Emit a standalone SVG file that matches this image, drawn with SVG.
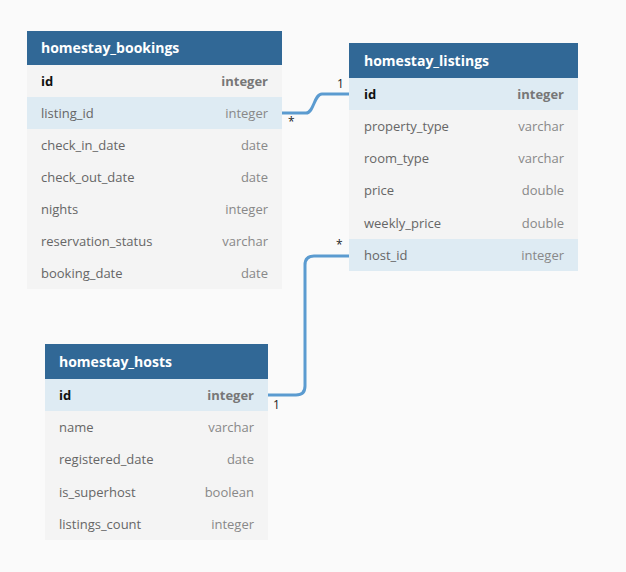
<svg xmlns="http://www.w3.org/2000/svg" width="626" height="572" viewBox="0 0 626 572">
<style>
text{font-family:"Open Sans","Liberation Sans",sans-serif;font-size:13px}
.hd{fill:#316896}.hl{fill:#ffffff;font-weight:bold;font-size:14px}
.row{fill:#f4f4f4}.sel{fill:#deebf3}
.n{fill:#666}.t{fill:#888;text-anchor:end}
.pk{fill:#111;font-weight:bold}.pt{fill:#777;font-weight:bold;text-anchor:end}
.c{fill:none;stroke:#5b9bd0;stroke-width:3}
.m{fill:#222;font-size:12px}
</style>
<rect width="626" height="572" fill="#fafafa"/>
<g id="homestay_bookings">
<rect x="27" y="31" width="255" height="34" class="hd"/>
<text x="41" y="53" class="hl">homestay_bookings</text>
<rect x="27" y="65" width="255" height="224" class="row"/>
<rect x="27" y="97" width="255" height="32" class="sel"/>
<text x="41" y="86" class="pk">id</text><text x="268" y="86" class="pt">integer</text>
<text x="41" y="118" class="n">listing_id</text><text x="268" y="118" class="t">integer</text>
<text x="41" y="150" class="n">check_in_date</text><text x="268" y="150" class="t">date</text>
<text x="41" y="182" class="n">check_out_date</text><text x="268" y="182" class="t">date</text>
<text x="41" y="214" class="n">nights</text><text x="268" y="214" class="t">integer</text>
<text x="41" y="246" class="n">reservation_status</text><text x="268" y="246" class="t">varchar</text>
<text x="41" y="278" class="n">booking_date</text><text x="268" y="278" class="t">date</text>
</g>
<g id="homestay_listings">
<rect x="349" y="43" width="229" height="35" class="hd"/>
<text x="364" y="66" class="hl">homestay_listings</text>
<rect x="349" y="78" width="229" height="193" class="row"/>
<rect x="349" y="78" width="229" height="32" class="sel"/>
<rect x="349" y="239" width="229" height="32" class="sel"/>
<text x="364" y="99" class="pk">id</text><text x="564" y="99" class="pt">integer</text>
<text x="364" y="131" class="n">property_type</text><text x="564" y="131" class="t">varchar</text>
<text x="364" y="163" class="n">room_type</text><text x="564" y="163" class="t">varchar</text>
<text x="364" y="195" class="n">price</text><text x="564" y="195" class="t">double</text>
<text x="364" y="228" class="n">weekly_price</text><text x="564" y="228" class="t">double</text>
<text x="364" y="260" class="n">host_id</text><text x="564" y="260" class="t">integer</text>
</g>
<g id="homestay_hosts">
<rect x="45" y="344" width="223" height="35" class="hd"/>
<text x="59" y="367" class="hl">homestay_hosts</text>
<rect x="45" y="379" width="223" height="161" class="row"/>
<rect x="45" y="379" width="223" height="32" class="sel"/>
<text x="59" y="400" class="pk">id</text><text x="254" y="400" class="pt">integer</text>
<text x="59" y="432" class="n">name</text><text x="254" y="432" class="t">varchar</text>
<text x="59" y="464" class="n">registered_date</text><text x="254" y="464" class="t">date</text>
<text x="59" y="497" class="n">is_superhost</text><text x="254" y="497" class="t">boolean</text>
<text x="59" y="529" class="n">listings_count</text><text x="254" y="529" class="t">integer</text>
</g>
<g id="connectors">
<path class="c" d="M282 113 H306 C314 113 314 94 322 94 H349"/>
<text x="288" y="126" class="m">*</text><text x="337" y="88" class="m">1</text>
<path class="c" d="M349 256 H314 Q305 256 305 265 V386 Q305 395 296 395 H268"/>
<text x="336" y="249" class="m">*</text><text x="273" y="409" class="m">1</text>
</g>
</svg>
